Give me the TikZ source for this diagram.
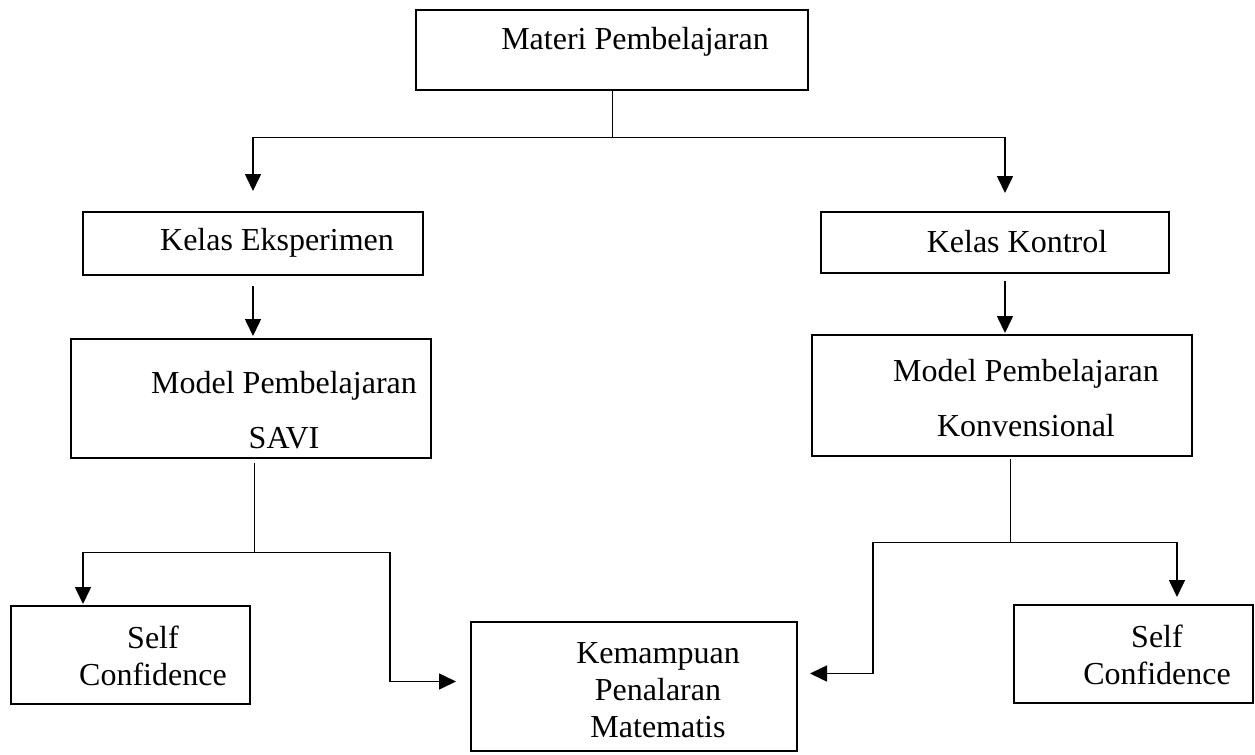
\documentclass[tikz,border=0pt]{standalone}
\usepackage{fontspec}
\setmainfont{Liberation Serif}
\usetikzlibrary{fit,arrows.meta}
\begin{document}
\begin{tikzpicture}[x=0.5pt,y=-0.5pt,line cap=butt,line join=miter,>={Triangle[width=8pt,length=8.5pt]},font=\fontsize{16}{18.5}\selectfont]
			\tikzset{box/.style={draw,line width=1pt,inner sep=0pt},
				lbl/.style={inner sep=0pt,align=center},
				conn/.style={line width=0.5pt},
				arr/.style={->,line width=0.8pt}}
			\useasboundingbox (0,0) rectangle (1255,755);
			% Kotak
			\node[box,fit={(416,10)(808,90)}] (materi) {};
			\node[box,fit={(83,212)(423,275)}] (eksp) {};
			\node[box,fit={(821,212)(1169,273)}] (kontrol) {};
			\node[box,fit={(71,339)(431,458)}] (savi) {};
			\node[box,fit={(812,335)(1192,456)}] (konv) {};
			\node[box,fit={(11,606)(250,704)}] (selfL) {};
			\node[box,fit={(1014,605)(1253,703)}] (selfR) {};
			\node[box,fit={(471,622)(797,751)}] (kemampuan) {};
			% Teks
			\node[lbl] (materi-t) at (635,42) {Materi Pembelajaran};
			\node[lbl] (eksp-t) at (277,243) {Kelas Eksperimen};
			\node[lbl] (kontrol-t) at (1017,242) {Kelas Kontrol};
			\node[lbl] (savi-t) at (284,410) {Model Pembelajaran\\[9pt]SAVI};
			\node[lbl] (konv-t) at (1026,398) {Model Pembelajaran\\[9pt]Konvensional};
			\node[lbl] (selfL-t) at (153,656) {Self\\Confidence};
			\node[lbl] (selfR-t) at (1157,655) {Self\\Confidence};
			\node[lbl] (kemampuan-t) at (658,690) {Kemampuan\\Penalaran\\Matematis};
			% Garis cabang
			\coordinate (bar-l) at (253,137);
			\coordinate (bar-r) at (1005,137);
			\coordinate (sl-l) at (83,552);
			\coordinate (sl-r) at (390,552);
			\coordinate (sr-l) at (873,542);
			\coordinate (sr-r) at (1177,542);
			\draw[conn] (materi.south) -- (materi.south |- bar-l);
			\draw[conn] (bar-l) -- (bar-r);
			\draw[arr,shorten >=10pt] (bar-l) -- (bar-l |- eksp.north);
			\draw[arr,shorten >=9pt] (bar-r) -- (bar-r |- kontrol.north);
			\draw[arr,shorten <=5pt,shorten >=1pt] (bar-l |- eksp.south) -- (bar-l |- savi.north);
			\draw[arr,shorten <=3.5pt,shorten >=0.5pt] (bar-r |- kontrol.south) -- (bar-r |- konv.north);
			% Cabang bawah
			\draw[conn,shorten <=2pt] (254,0 |- savi.south) -- (254,0 |- sl-l);
			\draw[conn,shorten <=1pt] (1010,0 |- konv.south) -- (1010,0 |- sr-l);
			\draw[conn] (sl-l) -- (sl-r);
			\draw[conn] (sr-l) -- (sr-r);
			\draw[arr,shorten >=0.5pt] (sl-l) -- (sl-l |- selfL.north);
			\draw[arr,shorten >=3.5pt] (sr-r) -- (sr-r |- selfR.north);
			\draw[arr,shorten >=7pt] (sl-r) |- ([yshift=2.5pt]kemampuan.west);
			\draw[arr,shorten >=6pt] (sr-l) |- ([yshift=6.5pt]kemampuan.east);
	\end{tikzpicture}
\end{document}
